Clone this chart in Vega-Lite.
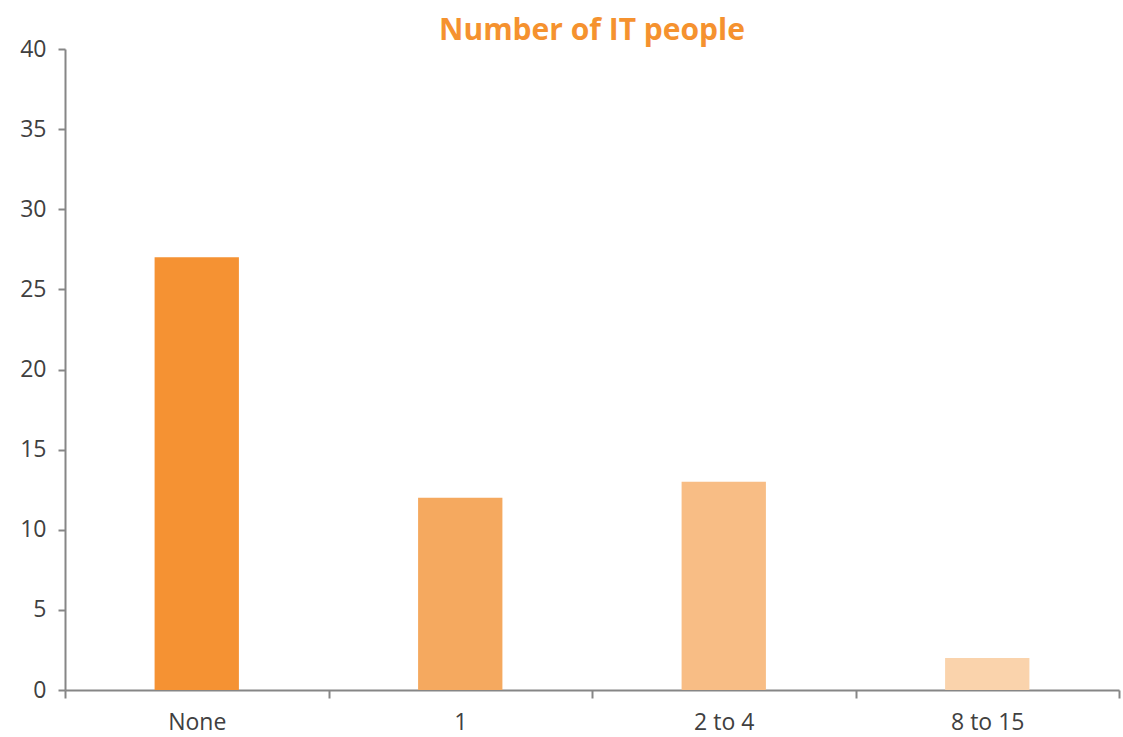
{
  "$schema": "https://vega.github.io/schema/vega-lite/v6.json",
  "width": 1123,
  "height": 737,
  "autosize": {"type": "fit", "contains": "padding"},
  "padding": {"left": 19, "top": 16, "right": 3, "bottom": 3},
  "background": "white",
  "title": {
    "text": "Number of IT people",
    "font": "Open Sans",
    "fontSize": 30,
    "fontWeight": "bold",
    "color": "#F5922F",
    "anchor": "middle",
    "offset": -8
  },
  "data": {
    "values": [
      {"category": "None", "count": 27},
      {"category": "1", "count": 12},
      {"category": "2 to 4", "count": 13},
      {"category": "8 to 15", "count": 2}
    ]
  },
  "mark": {"type": "bar", "width": {"band": 0.32}},
  "encoding": {
    "x": {
      "field": "category",
      "type": "nominal",
      "sort": ["None", "1", "2 to 4", "8 to 15"],
      "scale": {"paddingInner": 0, "paddingOuter": 0},
      "axis": {
        "title": null,
        "labelAngle": 0,
        "labelFont": "Open Sans",
        "labelFontSize": 23,
        "labelColor": "#404040",
        "labelPadding": 13,
        "domainColor": "#868686",
        "domainWidth": 2,
        "tickColor": "#868686",
        "tickWidth": 2,
        "tickSize": 8,
        "tickBand": "extent"
      }
    },
    "y": {
      "field": "count",
      "type": "quantitative",
      "scale": {"domain": [0, 40]},
      "axis": {
        "title": null,
        "values": [0, 5, 10, 15, 20, 25, 30, 35, 40],
        "grid": false,
        "labelFont": "Open Sans",
        "labelFontSize": 23,
        "labelColor": "#404040",
        "labelPadding": 12,
        "domainColor": "#868686",
        "domainWidth": 2,
        "tickColor": "#868686",
        "tickWidth": 2,
        "tickSize": 7
      }
    },
    "color": {
      "field": "category",
      "type": "nominal",
      "scale": {
        "domain": ["None", "1", "2 to 4", "8 to 15"],
        "range": ["#F59233", "#F5A95F", "#F8BD85", "#FAD3AC"]
      },
      "legend": null
    }
  },
  "config": {"view": {"stroke": null}}
}
